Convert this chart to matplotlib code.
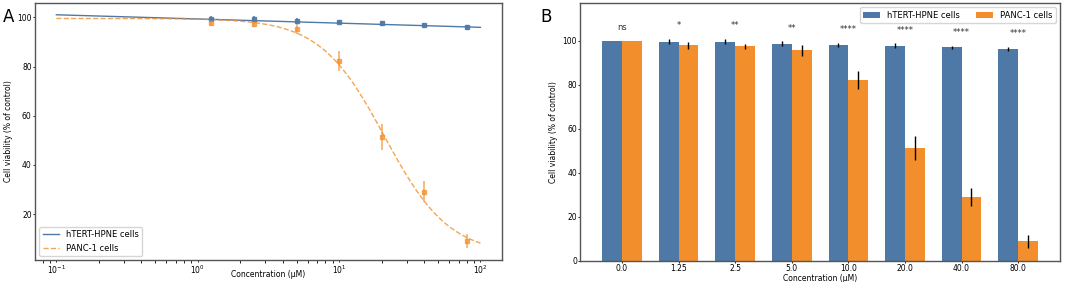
import numpy as np
import matplotlib
matplotlib.use('Agg')
from matplotlib import pyplot as plt

# concentrations (uM)
conc = [1.25, 2.5, 5.0, 10.0, 20.0, 40.0, 80.0]
bar_labels = ['0.0', '1.25', '2.5', '5.0', '10.0', '20.0', '40.0', '80.0']

# viability (% of control), first value = 0 uM control
hpne_mean = [100.0, 99.5, 99.5, 98.6, 98.0, 97.6, 97.0, 96.2]
hpne_err = [0.0, 1.1, 1.2, 1.0, 0.8, 1.1, 0.6, 0.8]
panc_mean = [100.0, 97.9, 97.4, 95.5, 82.2, 51.3, 29.1, 9.0]
panc_err = [0.0, 1.5, 1.1, 2.3, 4.1, 5.3, 4.2, 2.9]
signif = ['ns', '*', '**', '**', '****', '****', '****', '****']

# fitted curve parameters
hpne_fit = (99.4, -1.7)            # intercept at 1 uM, slope per decade
panc_fit = (99.6, 3.5, 21.0, 1.9)  # top, bottom, IC50, hill

blue = '#4e79a7'
orange = '#f28e2b'

fig = plt.figure(figsize=(10.65, 2.82), dpi=100)
ax1 = fig.add_axes([0.033, 0.078, 0.438, 0.911])
ax2 = fig.add_axes([0.545, 0.0745, 0.45, 0.9145])

# panel A
xs = np.logspace(-1, 2, 200)
y_hpne = hpne_fit[0] + hpne_fit[1] * np.log10(xs)
top, bot, ic50, hill = panc_fit
y_panc = bot + (top - bot) / (1 + (xs / ic50) ** hill)
ax1.plot(xs, y_hpne, color=blue, lw=1.0, label='hTERT-HPNE cells')
ax1.plot(xs, y_panc, color=orange, lw=1.0, ls='--', alpha=0.8, label='PANC-1 cells')
ax1.errorbar(conc, hpne_mean[1:], yerr=hpne_err[1:], fmt='s', ms=2.5,
             color=blue, ecolor=blue, elinewidth=1.2, alpha=0.9)
ax1.errorbar(conc, panc_mean[1:], yerr=panc_err[1:], fmt='s', ms=2.5,
             color=orange, ecolor=orange, elinewidth=1.2, alpha=0.7)
ax1.set_xscale('log')
ax1.set_xlabel('Concentration (µM)', fontsize=5.5)
ax1.xaxis.set_label_coords(0.5, -0.04)
ax1.set_ylabel('Cell viability (% of control)', fontsize=5.5, labelpad=3)
ax1.set_yticks([20, 40, 60, 80, 100])
ax1.legend(loc='lower left', fontsize=6, frameon=True)

# panel B
idx = np.arange(len(bar_labels))
w = 0.35
ax2.bar(idx - w / 2, hpne_mean, w, yerr=hpne_err, color=blue,
        error_kw=dict(ecolor='black', elinewidth=1.0), label='hTERT-HPNE cells')
ax2.bar(idx + w / 2, panc_mean, w, yerr=panc_err, color=orange,
        error_kw=dict(ecolor='black', elinewidth=1.0), label='PANC-1 cells')
for i, s in enumerate(signif):
    ytop = max(hpne_mean[i] + hpne_err[i], panc_mean[i] + panc_err[i])
    ax2.text(idx[i], ytop + 4, s, ha='center', va='bottom', fontsize=6, color='#333333')
ax2.set_xticks(idx)
ax2.set_xticklabels(bar_labels)
ax2.set_ylim(0, 117)
ax2.set_yticks([0, 20, 40, 60, 80, 100])
ax2.set_xlabel('Concentration (µM)', fontsize=5.5)
ax2.xaxis.set_label_coords(0.5, -0.05)
ax2.set_ylabel('Cell viability (% of control)', fontsize=5.5, labelpad=3)
ax2.legend(loc='upper right', ncol=2, fontsize=6, frameon=True)

for ax in (ax1, ax2):
    ax.tick_params(labelsize=5.5, length=1.5, width=0.6, pad=1)
    for sp in ax.spines.values():
        sp.set_color('#555555')
        sp.set_linewidth(1.0)
ax2.tick_params(axis='x', pad=0.5)

fig.text(0.003, 0.97, 'A', fontsize=12, va='top')
fig.text(0.507, 0.97, 'B', fontsize=12, va='top')

fig.savefig('out.png', dpi=100)
